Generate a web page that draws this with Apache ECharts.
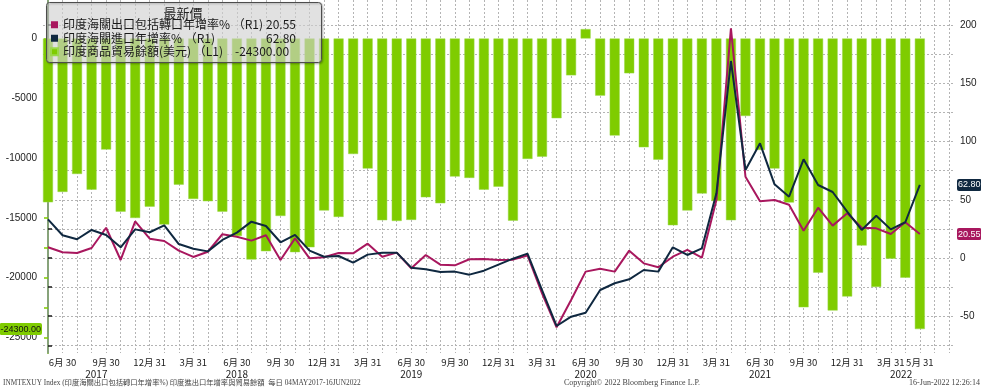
<!DOCTYPE html>
<html><head><meta charset="utf-8">
<script src="https://cdn.jsdelivr.net/npm/echarts@6/dist/echarts.min.js"></script>
<style>html,body{margin:0;padding:0;background:#fff}#c{width:981px;height:388px}</style>
</head><body><div id="c"></div>
<script>
// ---------- data ----------
const months = [
 '2017-05-31','2017-06-30','2017-07-31','2017-08-31','2017-09-30','2017-10-31','2017-11-30','2017-12-31',
 '2018-01-31','2018-02-28','2018-03-31','2018-04-30','2018-05-31','2018-06-30','2018-07-31','2018-08-31','2018-09-30','2018-10-31','2018-11-30','2018-12-31',
 '2019-01-31','2019-02-28','2019-03-31','2019-04-30','2019-05-31','2019-06-30','2019-07-31','2019-08-31','2019-09-30','2019-10-31','2019-11-30','2019-12-31',
 '2020-01-31','2020-02-29','2020-03-31','2020-04-30','2020-05-31','2020-06-30','2020-07-31','2020-08-31','2020-09-30','2020-10-31','2020-11-30','2020-12-31',
 '2021-01-31','2021-02-28','2021-03-31','2021-04-30','2021-05-31','2021-06-30','2021-07-31','2021-08-31','2021-09-30','2021-10-31','2021-11-30','2021-12-31',
 '2022-01-31','2022-02-28','2022-03-31','2022-04-30','2022-05-31'
];
const tradeBalance = [
 -13700,-12830,-11330,-12640,-9290,-14480,-15010,-14060,
 -15560,-12220,-13420,-13610,-14480,-16510,-18490,-17790,-14840,-17870,-17460,-14390,
 -14920,-9660,-10880,-15200,-15260,-15170,-13280,-13780,-11550,-11660,-12640,-12390,
 -15230,-10070,-9880,-6670,-3080,790,-4780,-8120,-2910,-9100,-10130,-15620,
 -14390,-12970,-13590,-15200,-6480,-9320,-10880,-13720,-22480,-19580,-22750,-21580,
 -17320,-20780,-18410,-20000,-24300
];
const exportsYoY = [
 9.2,4.9,4.3,8.6,26.0,-1.7,31.5,16.6,
 14.6,6.3,0.9,5.4,20.4,18.3,14.9,19.5,-1.7,16.9,-0.3,0.6,
 4.3,4.0,12.3,1.1,4.6,-8.9,2.6,-5.7,-6.3,-1.1,-0.9,-1.7,
 -1.4,2.2,-30.3,-59.5,-36.1,-11.7,-9.2,-11.7,6.3,-4.6,-8.0,1.1,
 6.9,0.3,49.8,197.3,69.8,48.7,49.8,45.8,23.5,43.2,27.8,38.4,
 26.0,25.5,20.6,30.7,20.55
];
const importsYoY = [
 33.2,19.5,16.1,24.1,19.8,9.2,24.6,22.1,
 28.1,12.0,8.0,5.7,15.5,21.8,31.2,27.5,13.5,19.8,6.3,1.1,
 1.7,-4.0,2.9,4.6,4.6,-8.3,-9.7,-12.0,-11.7,-14.3,-10.9,-5.7,
 -0.6,3.8,-27.5,-58.4,-50.4,-47.0,-27.5,-21.7,-18.3,-10.3,-11.7,9.2,
 2.6,8.3,55.6,169.2,75.6,98.5,63.3,52.7,84.8,62.7,56.7,39.8,
 24.1,36.3,24.6,30.7,62.8
];
const seriesNames = ['印度海關出口包括轉口年增率% （R1)','印度海關進口年增率% （R1)','印度商品貿易餘額(美元) （L1)'];
const legendTitle = '最新價';
const leftLabelValues = [0,-5000,-10000,-15000,-20000,-25000];
const leftTickValues = [0,-2500,-5000,-7500,-10000,-12500,-15000,-17500,-20000,-22500,-25000];
const rightLabelValues = [200,150,100,50,0,-50];
const rightTickValues = [200,175,150,125,100,75,50,25,0,-25,-50,-75];
const years = [2017,2018,2019,2020,2021,2022];
const footerLeft = 'INMTEXUY Index (印度海關出口包括轉口年增率%) 印度進出口年增率與貿易餘額  每日 04MAY2017-16JUN2022';
const footerMid = 'Copyright© 2022 Bloomberg Finance L.P.';
const footerRight = '16-Jun-2022 12:26:14';

// ---------- helpers ----------
const X_MIN = -0.344, X_MAX = 62.42;
const GREEN = '#7fcc00', RED = '#a8175e', NAVY = '#0f2840';
const monthLabelIdx = [];
months.forEach((m, i) => { const mo = +m.slice(5,7); if (mo % 3 === 0 || i === months.length - 1) monthLabelIdx.push(i); });
const monthLabel = i => { const m = months[i]; return (+m.slice(5,7)) + '月 ' + m.slice(8,10); };
const gridIdx = []; for (let i = 0; i <= 62; i++) gridIdx.push(i);
const yearPos = years.map(y => {
  const s = Math.max(X_MIN, (y - 2017) * 12 - 5), e = Math.min(X_MAX, (y - 2017) * 12 + 7);
  return (s + e) / 2;
});
const last = a => a[a.length - 1];
const latest = [last(exportsYoY).toFixed(2), last(importsYoY).toFixed(2), last(tradeBalance).toFixed(2)];
const axisFont = '"Liberation Sans","Noto Sans CJK TC",sans-serif';
const cjk = '"Noto Sans CJK TC","Noto Sans",sans-serif';
const dotted = { type: [2, 2], color: '#b4b4b4', width: 1 };
const hidden = { color: 'rgba(0,0,0,0)', width: 0 };

const chart = echarts.init(document.getElementById('c'), null, { renderer: 'canvas' });
chart.setOption({
  animation: false,
  backgroundColor: '#ffffff',
  grid: { left: 43, right: 26, top: 0, bottom: 35, containLabel: false },
  xAxis: [{
    type: 'value', min: X_MIN, max: X_MAX,
    axisLine: { show: false },
    axisTick: { show: false, customValues: gridIdx },
    splitLine: { show: true, lineStyle: dotted },
    axisLabel: { customValues: monthLabelIdx, formatter: v => monthLabel(Math.round(v)),
      margin: 5, fontSize: 9.5, color: '#1a1a1a', fontFamily: cjk }
  }, {
    type: 'value', min: X_MIN, max: X_MAX, position: 'bottom', offset: 11,
    axisLine: { show: false }, axisTick: { show: false }, splitLine: { show: false },
    axisLabel: { customValues: yearPos, formatter: v => {
        let k = 0, d = 1e9; yearPos.forEach((p, i) => { if (Math.abs(p - v) < d) { d = Math.abs(p - v); k = i; } });
        return String(years[k]); },
      margin: 5, fontSize: 10, color: '#1a1a1a', fontFamily: cjk }
  }],
  yAxis: [{
    type: 'value', position: 'left', min: -26300, max: 3220,
    axisLine: { show: true, lineStyle: { color: GREEN, width: 2 } },
    axisTick: { show: true, customValues: leftTickValues, length: 4, lineStyle: { color: GREEN, width: 1.5 } },
    axisLabel: { customValues: leftLabelValues, formatter: v => String(v), margin: 6, fontSize: 10, color: '#222', fontFamily: axisFont },
    splitLine: { show: false }
  }, {
    type: 'value', position: 'right', min: -81.6, max: 221.6,
    axisLine: { show: true, lineStyle: { color: '#8a96a3', width: 1.5 } },
    axisTick: { show: true, customValues: rightTickValues, length: 4, lineStyle: { color: '#1a1a1a', width: 1.5 } },
    axisLabel: { customValues: rightLabelValues, formatter: v => String(v), margin: 5, fontSize: 10, color: '#222', fontFamily: axisFont },
    splitLine: { show: true, lineStyle: dotted }
  }],
  legend: {
    orient: 'vertical', left: 50, top: 18, z: 20, selectedMode: false, padding: 0,
    icon: 'rect', itemWidth: 7, itemHeight: 7, itemGap: 0,
    data: seriesNames,
    formatter: name => { const k = seriesNames.indexOf(name); return '{' + (k === 2 ? 'c' : 'a') + '|' + name + '}{v|' + latest[k] + '}'; },
    textStyle: { fontSize: 12, color: '#1a1a1a', fontFamily: cjk, lineHeight: 13.5,
      rich: {
        a: { width: 203, fontSize: 12, fontFamily: cjk, color: '#1a1a1a', lineHeight: 13.5 },
        c: { width: 172, fontSize: 12, fontFamily: cjk, color: '#1a1a1a', lineHeight: 13.5 },
        v: { fontSize: 12, fontFamily: cjk, color: '#1a1a1a', lineHeight: 13.5 }
      } }
  },
  graphic: [
    { type: 'rect', z: 10, silent: true, shape: { x: 46.5, y: 2.5, width: 275, height: 60, r: 3 },
      style: { fill: 'rgba(240,240,240,0.55)', stroke: '#4d4d4d', lineWidth: 1,
        shadowBlur: 2, shadowColor: 'rgba(0,0,0,0.35)', shadowOffsetX: 1, shadowOffsetY: 1 } },
    { type: 'text', z: 11, silent: true, x: 183, y: 13.5,
      style: { text: legendTitle, font: '13px ' + cjk, fill: '#222', align: 'center', verticalAlign: 'middle' } },
    { type: 'text', silent: true, x: 3, y: 383,
      style: { text: footerLeft, font: '7.3px "Liberation Serif","Noto Sans CJK TC",serif', fill: '#444', align: 'left', verticalAlign: 'middle' } },
    { type: 'text', silent: true, x: 632, y: 383,
      style: { text: footerMid, font: '8px "Liberation Serif",serif', fill: '#444', align: 'center', verticalAlign: 'middle' } },
    { type: 'text', silent: true, x: 980, y: 383,
      style: { text: footerRight, font: '8px "Liberation Serif",serif', fill: '#444', align: 'right', verticalAlign: 'middle' } }
  ],
  series: [{
    name: seriesNames[2], type: 'bar', xAxisIndex: 0, yAxisIndex: 0, barWidth: 10, clip: false,
    color: GREEN, itemStyle: { color: GREEN, borderColor: '#9ad94a', borderWidth: 0.5 },
    data: tradeBalance.map((v, i) => [i, v]),
    markLine: { silent: true, symbol: 'none', lineStyle: hidden,
      data: [{ yAxis: last(tradeBalance) }],
      label: { show: true, position: 'start', distance: 1, formatter: latest[2], color: '#111', fontSize: 9, opacity: 1,
        fontFamily: axisFont, backgroundColor: GREEN, padding: [2, 1, 1, 1], borderRadius: 2 } }
  }, {
    name: seriesNames[0], type: 'line', yAxisIndex: 1, showSymbol: false, color: RED, clip: false,
    lineStyle: { color: RED, width: 2 },
    data: exportsYoY.map((v, i) => [i, v]),
    markLine: { silent: true, symbol: 'none', lineStyle: hidden,
      data: [{ yAxis: last(exportsYoY) }],
      label: { show: true, position: 'end', distance: 2, formatter: latest[0], color: '#fff', fontSize: 9, opacity: 1,
        fontFamily: axisFont, backgroundColor: RED, padding: [2, 1, 1, 1], borderRadius: 2 } }
  }, {
    name: seriesNames[1], type: 'line', yAxisIndex: 1, showSymbol: false, color: NAVY, clip: false,
    lineStyle: { color: NAVY, width: 2 },
    data: importsYoY.map((v, i) => [i, v]),
    markLine: { silent: true, symbol: 'none', lineStyle: hidden,
      data: [{ yAxis: last(importsYoY) }],
      label: { show: true, position: 'end', distance: 2, formatter: latest[1], color: '#fff', fontSize: 9, opacity: 1,
        fontFamily: axisFont, backgroundColor: NAVY, padding: [2, 1, 1, 1], borderRadius: 2 } }
  }]
});
</script></body></html>
